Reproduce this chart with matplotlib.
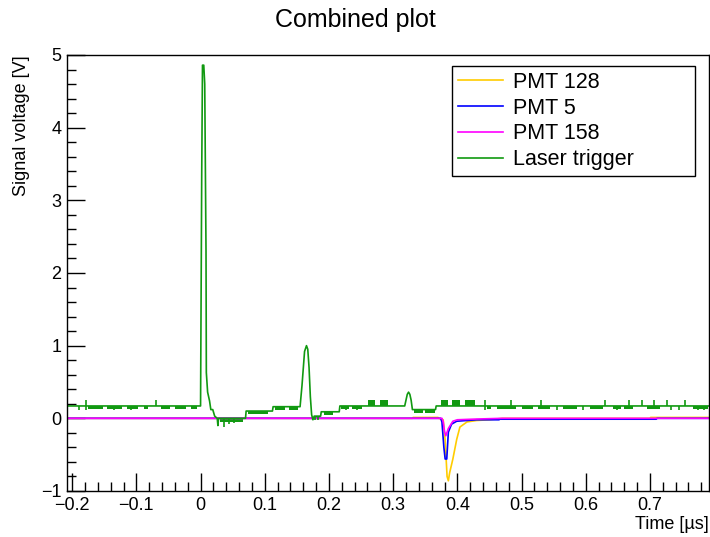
import numpy as np
import matplotlib.pyplot as plt
from matplotlib.ticker import MultipleLocator

plt.rcParams['font.family'] = ['Liberation Sans', 'DejaVu Sans']

# laser trigger: main shape (time in us, volts)
laser_t = [-0.208, 0.0, 0.0018, 0.003, 0.005, 0.0065, 0.0085, 0.009, 0.011, 0.014, 0.016, 0.019,
           0.022, 0.026, 0.027, 0.028, 0.070, 0.071, 0.112, 0.113, 0.155, 0.158, 0.162, 0.165,
           0.167, 0.169, 0.171, 0.173, 0.175, 0.177, 0.187, 0.188, 0.216, 0.217, 0.318, 0.320,
           0.322, 0.324, 0.326, 0.328, 0.330, 0.366, 0.367, 0.792]
laser_v = [0.17, 0.17, 3.35, 4.86, 4.86, 4.6, 2.3, 0.63, 0.36, 0.24, 0.12, 0.12,
           0.03, 0.0, -0.1, 0.0, 0.0, 0.1, 0.1, 0.16, 0.16, 0.45, 0.92, 1.0,
           0.95, 0.7, 0.3, 0.05, -0.02, 0.03, 0.03, 0.09, 0.09, 0.17, 0.17, 0.25,
           0.33, 0.36, 0.33, 0.25, 0.12, 0.12, 0.17, 0.17]

# dense digitisation noise on the laser trace: start, end, low, high
block_start = [-0.176, -0.145, -0.115, -0.088, -0.062, -0.040, -0.015, 0.031, 0.074, 0.116, 0.138,
               0.176, 0.192, 0.218, 0.236, 0.261, 0.280, 0.332, 0.350, 0.374, 0.392, 0.412,
               0.446, 0.462, 0.500, 0.525, 0.565, 0.607, 0.643, 0.660, 0.695, 0.767]
block_end = [-0.152, -0.122, -0.097, -0.082, -0.047, -0.022, -0.005, 0.066, 0.105, 0.132, 0.152,
             0.186, 0.206, 0.232, 0.252, 0.271, 0.292, 0.346, 0.365, 0.386, 0.404, 0.428,
             0.452, 0.492, 0.518, 0.544, 0.586, 0.627, 0.655, 0.674, 0.716, 0.790]
block_lo = [0.13, 0.13, 0.13, 0.13, 0.13, 0.13, 0.13, -0.05, 0.06, 0.12, 0.12,
            0.0, 0.05, 0.13, 0.13, 0.17, 0.17, 0.08, 0.08, 0.17, 0.17, 0.17,
            0.13, 0.13, 0.13, 0.13, 0.13, 0.13, 0.13, 0.13, 0.13, 0.13]
block_hi = [0.17, 0.17, 0.17, 0.17, 0.17, 0.17, 0.17, 0.0, 0.10, 0.16, 0.16,
            0.03, 0.09, 0.17, 0.17, 0.25, 0.25, 0.12, 0.12, 0.25, 0.25, 0.25,
            0.17, 0.17, 0.17, 0.17, 0.17, 0.17, 0.17, 0.17, 0.17, 0.17]

# isolated glitches on the laser trace: time, low, high
glitch_t = [-0.190, -0.178, -0.135, -0.108, -0.069, 0.036, 0.044, 0.052, 0.090, 0.122, 0.146,
            0.178, 0.183, 0.198, 0.226, 0.244, 0.266, 0.286, 0.340, 0.356, 0.380, 0.398,
            0.443, 0.483, 0.531, 0.556, 0.596, 0.630, 0.648, 0.668, 0.687, 0.706, 0.726,
            0.733, 0.745, 0.755, 0.775, 0.784]
glitch_lo = [0.12, 0.12, 0.12, 0.12, 0.17, -0.12, -0.08, -0.07, 0.06, 0.12, 0.12,
             -0.03, -0.03, 0.05, 0.12, 0.12, 0.17, 0.17, 0.08, 0.08, 0.17, 0.17,
             0.12, 0.17, 0.17, 0.12, 0.12, 0.17, 0.12, 0.17, 0.17, 0.17, 0.17,
             0.12, 0.12, 0.17, 0.12, 0.12]
glitch_hi = [0.17, 0.25, 0.17, 0.17, 0.25, 0.0, 0.0, 0.0, 0.10, 0.16, 0.16,
             0.03, 0.03, 0.09, 0.17, 0.17, 0.25, 0.25, 0.12, 0.12, 0.25, 0.25,
             0.25, 0.25, 0.25, 0.17, 0.17, 0.25, 0.17, 0.25, 0.25, 0.25, 0.25,
             0.17, 0.17, 0.25, 0.17, 0.17]

# PMT pulses
pmt128_t = [-0.208, 0.330, 0.331, 0.370, 0.371, 0.378, 0.381, 0.384, 0.386, 0.388, 0.393,
            0.399, 0.404, 0.415, 0.430, 0.450, 0.470, 0.700, 0.701, 0.792]
pmt128_v = [0.0, 0.0, 0.012, 0.012, 0.0, -0.02, -0.3, -0.8, -0.86, -0.75, -0.56,
            -0.29, -0.12, -0.05, -0.03, -0.02, 0.0, 0.0, 0.012, 0.012]
pmt5_t = [-0.208, 0.374, 0.376, 0.379, 0.381, 0.3835, 0.386, 0.391, 0.399, 0.430, 0.465,
          0.466, 0.710, 0.711, 0.792]
pmt5_v = [0.0, 0.0, -0.05, -0.4, -0.56, -0.56, -0.19, -0.08, -0.04, -0.02, -0.02,
          -0.012, -0.012, 0.0, 0.0]
pmt158_t = [-0.208, 0.376, 0.378, 0.380, 0.382, 0.386, 0.393, 0.400, 0.430, 0.470, 0.792]
pmt158_v = [0.0, 0.0, -0.05, -0.18, -0.24, -0.14, -0.04, -0.02, -0.01, 0.0, 0.0]

c_yellow = '#ffcc00'
c_blue = '#0000ff'
c_magenta = '#ff00ff'
c_green = '#119911'

fig = plt.figure(figsize=(7.10, 5.37), dpi=100)
ax = fig.add_axes([0.0944, 0.0857, 0.9042, 0.8119])

ax.plot(pmt128_t, pmt128_v, color=c_yellow, lw=1.2, label='PMT 128')
ax.plot(pmt5_t, pmt5_v, color=c_blue, lw=1.2, label='PMT 5')
ax.plot(pmt158_t, pmt158_v, color=c_magenta, lw=1.2, label='PMT 158')
ax.plot(laser_t, laser_v, color=c_green, lw=1.2, label='Laser trigger')
ax.bar(block_start, np.subtract(block_hi, block_lo), width=np.subtract(block_end, block_start),
       bottom=block_lo, align='edge', color=c_green, linewidth=0)
ax.vlines(glitch_t, glitch_lo, glitch_hi, color=c_green, lw=1.2)

ax.set_xlim(-0.208, 0.792)
ax.set_ylim(-1, 5)
ax.xaxis.set_major_locator(MultipleLocator(0.1))
ax.xaxis.set_minor_locator(MultipleLocator(0.02))
ax.yaxis.set_major_locator(MultipleLocator(1))
ax.yaxis.set_minor_locator(MultipleLocator(0.2))
ax.tick_params(which='both', direction='in', top=False, right=False, labelsize=13, width=1)
ax.tick_params(which='major', length=13, pad=4)
ax.tick_params(which='minor', length=6.5)
ax.xaxis.set_major_formatter(plt.FuncFormatter(lambda v, p: ('%g' % round(v, 2)).replace('-', '\u2212')))
ax.yaxis.set_major_formatter(plt.FuncFormatter(lambda v, p: ('%g' % v).replace('-', '\u2212')))
for s in ax.spines.values():
    s.set_linewidth(1)

ax.set_xlabel('Time [\u00b5s]', fontsize=13, loc='right', labelpad=2)
ax.set_ylabel('Signal voltage [V]', fontsize=13, loc='top', labelpad=8)
fig.suptitle('Combined plot', fontsize=18, y=0.985)

leg = ax.legend(loc='upper left', bbox_to_anchor=(0.5997, 0.975, 0.3785, 0.0), mode='expand',
                borderaxespad=0, fancybox=False, edgecolor='black', framealpha=1, fontsize=15.5,
                handlelength=2.1, handletextpad=0.45, labelspacing=0.22, borderpad=0.28)
leg.get_frame().set_linewidth(1)

fig.savefig('out.png', dpi=100)
